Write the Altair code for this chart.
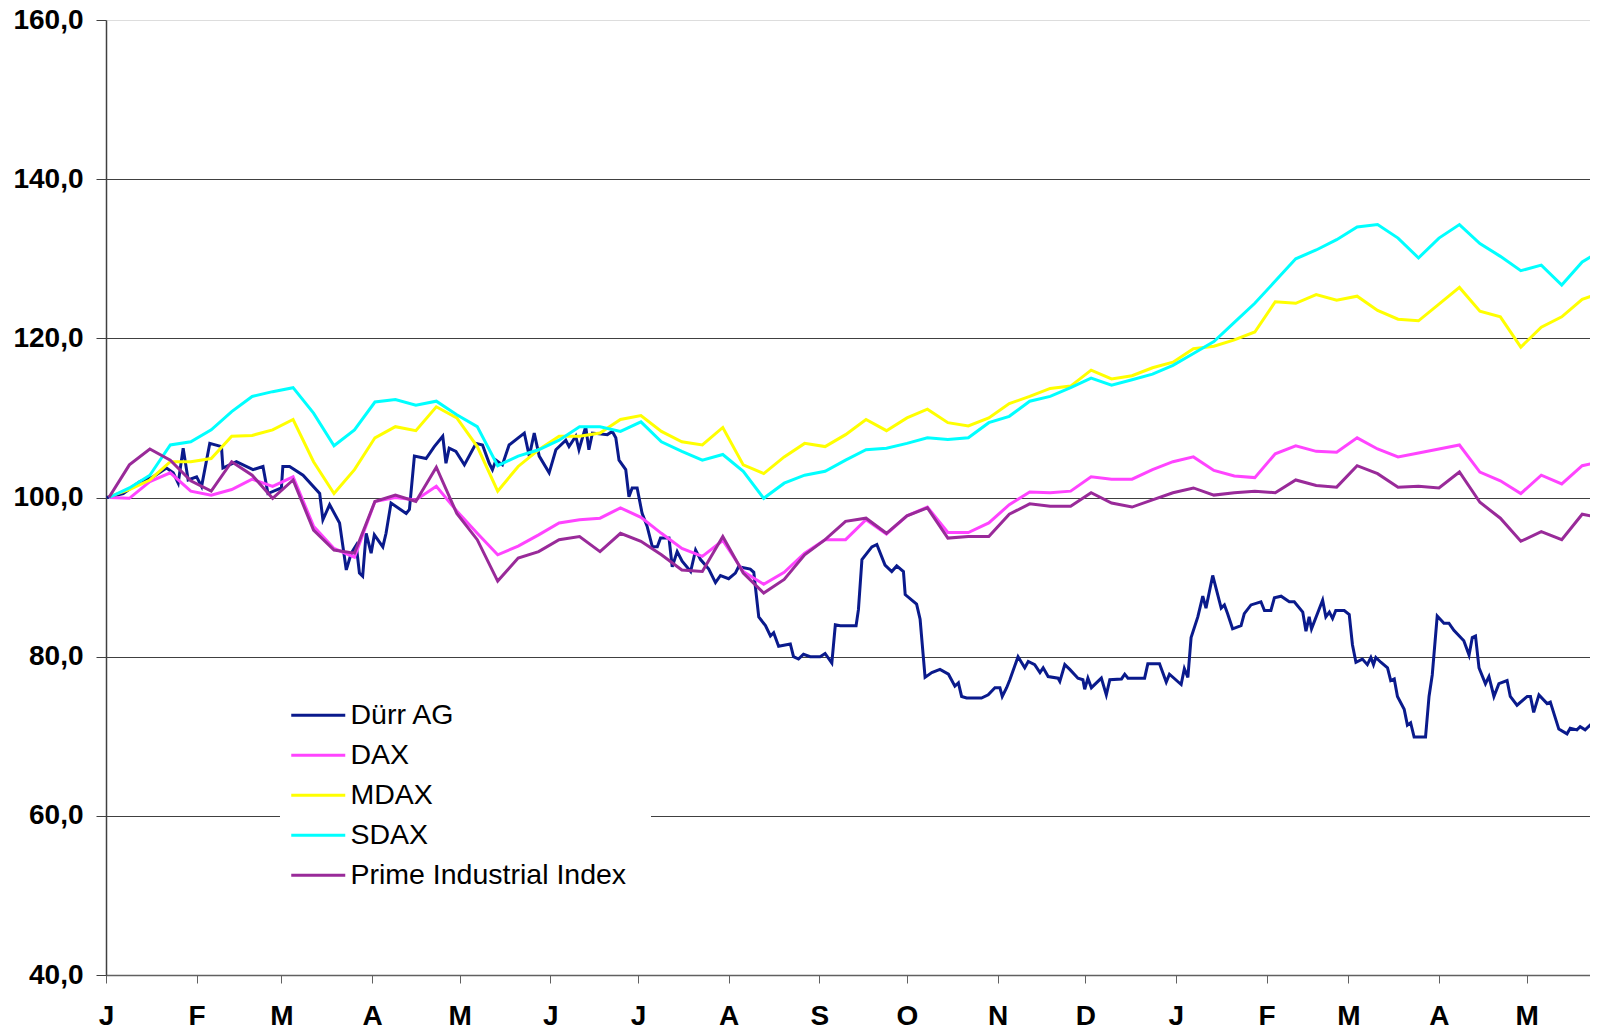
import altair as alt
import pandas as pd

SERIES = ["Dürr AG", "DAX", "MDAX", "SDAX", "Prime Industrial Index"]
COLORS = ["#0a1a8c", "#ff44ff", "#ffff00", "#00ffff", "#992a99"]

# weekly dates for the indices (Fridays) plus the last day shown
INDEX_DATES = list(pd.date_range("2004-01-02", periods=73, freq="7D")) + [pd.Timestamp("2005-05-24")]

DAX = [100.0, 99.9, 102.0, 103.1, 100.8, 100.3, 101.0, 102.3, 101.4, 102.6,
       96.4, 93.6, 92.5, 99.5, 100.0, 99.7, 101.4, 98.3, 95.5, 92.8,
       93.9, 95.3, 96.8, 97.2, 97.4, 98.7, 97.5, 95.5, 93.6, 92.6,
       94.6, 90.7, 89.1, 90.6, 93.0, 94.7, 94.7, 97.2, 95.4, 97.7,
       98.8, 95.6, 95.6, 96.8, 99.1, 100.7, 100.6, 100.8, 102.6, 102.3,
       102.3, 103.5, 104.5, 105.1, 103.4, 102.7, 102.5, 105.5, 106.5, 105.8,
       105.7, 107.5, 106.1, 105.1, 105.6, 106.1, 106.6, 103.2, 102.1, 100.5,
       102.8, 101.7, 104.0, 104.3]

MDAX = [100.1, 101.0, 102.2, 104.5, 104.5, 104.9, 107.7, 107.8, 108.5, 109.8,
        104.5, 100.5, 103.5, 107.5, 108.9, 108.4, 111.4, 110.0, 106.4, 100.8,
        103.9, 106.0, 107.7, 107.7, 108.1, 109.8, 110.3, 108.3, 107.0, 106.6,
        108.8, 104.1, 103.0, 105.1, 106.8, 106.4, 107.9, 109.8, 108.4, 110.0,
        111.1, 109.4, 109.0, 110.0, 111.8, 112.7, 113.7, 114.0, 116.0, 114.9,
        115.3, 116.3, 117.0, 118.7, 119.0, 119.8, 120.8, 124.6, 124.4, 125.5,
        124.8, 125.3, 123.5, 122.4, 122.2, 124.3, 126.4, 123.4, 122.7, 118.9,
        121.4, 122.7, 124.9, 125.4]

SDAX = [100.0, 101.2, 102.8, 106.6, 107.0, 108.5, 110.8, 112.7, 113.3, 113.8,
        110.6, 106.5, 108.5, 112.0, 112.3, 111.6, 112.1, 110.4, 108.9, 104.0,
        105.2, 106.0, 107.2, 108.9, 108.9, 108.3, 109.5, 107.0, 105.8, 104.7,
        105.4, 103.3, 99.9, 101.8, 102.8, 103.3, 104.7, 106.0, 106.2, 106.8,
        107.5, 107.3, 107.5, 109.4, 110.2, 112.1, 112.7, 113.8, 115.0, 114.1,
        114.8, 115.5, 116.6, 118.1, 119.6, 122.0, 124.4, 127.2, 130.0, 131.1,
        132.4, 134.0, 134.3, 132.6, 130.1, 132.6, 134.3, 131.9, 130.3, 128.5,
        129.2, 126.7, 129.6, 130.5]

PRIME = [100.0, 104.1, 106.1, 104.7, 102.1, 100.8, 104.5, 102.8, 99.9, 102.2,
         95.9, 93.4, 93.0, 99.5, 100.3, 99.5, 103.8, 98.0, 94.7, 89.5,
         92.4, 93.2, 94.7, 95.1, 93.2, 95.5, 94.5, 92.8, 90.9, 90.7,
         95.1, 90.5, 88.0, 89.7, 92.8, 94.7, 97.0, 97.4, 95.5, 97.7,
         98.7, 94.9, 95.1, 95.1, 97.9, 99.2, 98.9, 98.9, 100.6, 99.3,
         98.8, 99.7, 100.6, 101.2, 100.3, 100.6, 100.8, 100.6, 102.2, 101.5,
         101.3, 104.0, 103.0, 101.3, 101.4, 101.2, 103.2, 99.4, 97.4, 94.5,
         95.7, 94.7, 97.9, 97.6]

# Dürr AG: days since 1 Jan 2004 and indexed value
DURR_DAYS = [0.2, 5.9, 11.6, 16.1, 20.7, 23.0, 24.7, 26.4, 28.1, 31.0, 32.7, 35.5, 39.5, 40.0,
             44.6, 50.3, 53.7, 55.4, 60.0, 60.5, 62.8, 67.4, 73.1, 74.2, 76.5, 79.9, 82.2, 83.9,
             85.6, 86.7, 87.8, 89.0, 90.7, 91.8, 94.7, 95.8, 97.5, 102.7, 103.8, 105.5, 109.5,
             112.3, 115.2, 116.3, 117.4, 119.7, 122.6, 125.4, 126.6, 128.8, 131.1, 132.2, 133.4,
             135.6, 137.9, 143.1, 144.8, 146.5, 148.2, 151.6, 153.9, 157.3, 158.4, 160.7, 161.8,
             164.1, 165.2, 166.4, 171.5, 173.2, 174.4, 175.5, 177.8, 178.9, 180.0, 181.7, 183.4,
             185.1, 186.9, 188.6, 189.7, 192.6, 193.7, 195.4, 197.1, 200.0, 201.7, 203.4, 206.2,
             208.5, 210.2, 213.0, 215.3, 216.4, 220.4, 221.6, 223.3, 225.6, 227.3, 228.4, 230.1,
             234.1, 235.2, 236.9, 238.6, 240.9, 244.3, 246.0, 248.3, 249.5, 251.2, 256.6, 257.4,
             258.6, 262.0, 263.7, 266.5, 268.8, 270.5, 272.8, 273.4, 277.3, 278.5, 280.2, 282.5,
             285.3, 288.2, 290.4, 291.6, 292.7, 294.4, 299.5, 301.8, 304.1, 305.8, 306.6, 308.1,
             309.2, 312.0, 314.3, 315.5, 317.7, 319.5, 320.6, 322.3, 325.7, 326.3, 328.0, 329.7,
             332.5, 334.2, 334.8, 335.9, 337.1, 340.5, 342.2, 343.4, 347.4, 348.5, 349.6, 355.3,
             356.4, 360.4, 362.7, 363.8, 367.8, 368.9, 370.1, 371.2, 373.5, 375.2, 376.3, 378.6,
             381.5, 382.6, 383.7, 385.4, 388.3, 389.4, 391.7, 395.1, 396.3, 398.5, 399.7, 402.0,
             404.8, 406.5, 409.4, 410.5, 411.6, 412.4, 416.2, 417.3, 418.5, 419.6, 420.7, 423.6,
             425.3, 426.4, 427.6, 429.8, 431.5, 432.7, 433.6, 434.4, 436.1, 438.4, 439.5, 440.7,
             441.8, 444.1, 445.2, 446.3, 447.5, 451.4, 452.6, 453.7, 455.4, 457.7, 459.4, 461.1,
             464.5, 466.3, 467.4, 468.5, 469.7, 471.9, 473.1, 474.8, 476.5, 479.3, 480.4, 482.7,
             486.2, 487.3, 488.4, 490.2, 493.0, 494.1, 497.0, 499.8, 500.9, 503.2, 504.3, 506.0,
             507.7, 509.3]
DURR_VALUES = [100.0, 100.5, 102.0, 102.6, 103.7, 103.1, 101.8, 106.2, 102.2, 102.6, 101.4, 106.8, 106.4, 103.7,
               104.5, 103.5, 103.9, 100.5, 101.2, 103.9, 103.9, 102.8, 100.5, 97.2, 99.1, 96.8, 90.9, 93.0,
               94.0, 90.5, 90.1, 95.5, 93.0, 95.3, 93.8, 95.5, 99.3, 98.0, 98.5, 105.2, 104.9,
               106.4, 107.7, 104.3, 106.2, 105.8, 104.1, 106.0, 106.8, 106.6, 104.3, 103.5, 104.7,
               104.1, 106.6, 108.1, 105.2, 108.1, 105.2, 103.1, 106.0, 107.2, 106.4, 107.7, 106.0,
               108.9, 106.0, 108.1, 107.9, 108.3, 107.5, 104.7, 103.5, 100.1, 101.2, 101.2, 98.0,
               96.4, 93.8, 93.8, 94.9, 94.9, 91.3, 93.2, 92.0, 90.7, 93.4, 92.2, 91.0,
               89.3, 90.2, 89.8, 90.5, 91.3, 91.0, 90.6, 85.0, 83.9, 82.6, 83.0, 81.3,
               81.6, 80.0, 79.7, 80.3, 80.0, 80.0, 80.4, 79.2, 84.0, 83.9, 83.9, 85.9,
               92.2, 93.8, 94.1, 91.5, 90.7, 91.4, 90.7, 87.8, 86.6, 84.7, 77.4, 78.0,
               78.4, 77.8, 76.3, 76.7, 75.0, 74.8, 74.8, 75.2, 76.1, 76.1, 75.0, 76.1,
               77.1, 80.0, 78.6, 79.4, 79.0, 78.0, 78.6, 77.5, 77.3, 76.9, 79.0, 78.4,
               77.3, 77.1, 75.9, 77.3, 76.1, 77.3, 75.2, 77.1, 77.2, 77.8, 77.3, 77.3,
               79.1, 79.1, 76.8, 77.8, 76.5, 78.5, 77.4, 82.4, 85.0, 87.6, 86.1, 90.2,
               86.1, 86.5, 85.4, 83.5, 83.9, 85.4, 86.5, 86.9, 85.8, 85.8, 87.4, 87.6,
               86.9, 86.9, 85.6, 83.2, 85.0, 83.5, 87.1, 85.0, 85.6, 84.8, 85.8, 85.8,
               85.3, 81.5, 79.3, 79.7, 79.0, 79.9, 79.0, 79.9, 79.3, 78.6, 77.0, 77.2,
               75.0, 73.4, 71.4, 71.7, 69.9, 69.9, 75.0, 77.7, 85.1, 84.2, 84.2, 83.3,
               82.0, 80.2, 82.4, 82.6, 78.6, 76.6, 77.5, 75.0, 76.6, 77.0, 75.0, 73.9,
               75.0, 75.0, 73.0, 75.2, 74.1, 74.3, 70.9, 70.3, 71.0, 70.8, 71.2, 70.8,
               71.4, 71.0]

Y_TICKS = [40, 60, 80, 100, 120, 140, 160]

frames = []
durr_dates = pd.Timestamp("2004-01-01") + pd.to_timedelta(DURR_DAYS, unit="D")
frames.append(pd.DataFrame({"date": durr_dates, "series": "Dürr AG", "value": DURR_VALUES}))
for name, vals in [("DAX", DAX), ("MDAX", MDAX), ("SDAX", SDAX), ("Prime Industrial Index", PRIME)]:
    frames.append(pd.DataFrame({"date": INDEX_DATES, "series": name, "value": vals}))
df = pd.concat(frames, ignore_index=True)
df["order"] = df["series"].map({s: i for i, s in enumerate(SERIES)})

FONT = "Liberation Sans, Arial, sans-serif"

chart = alt.Chart(df).mark_line(strokeWidth=3, clip=True).encode(
    x=alt.X(
        "date:T",
        scale=alt.Scale(
            domain=[alt.DateTime(year=2004, month=1, date=1),
                    alt.DateTime(year=2005, month=5, date=22, hours=16)],
            nice=False,
        ),
        axis=alt.Axis(
            title=None,
            grid=False,
            tickCount={"interval": "month", "step": 1},
            labelExpr="slice(timeFormat(datum.value, '%b'), 0, 1)",
            labelFont=FONT,
            labelFontSize=28,
            labelFontWeight="bold",
            labelColor="black",
            labelPadding=19,
            labelFlush=False,
            labelOverlap=False,
            tickSize=8,
            tickColor="#606060",
            domainColor="#606060",
            domainWidth=1.5,
        ),
    ),
    y=alt.Y(
        "value:Q",
        scale=alt.Scale(domain=[40, 160], nice=False, zero=False),
        axis=alt.Axis(
            title=None,
            values=Y_TICKS,
            labelExpr="replace(format(datum.value, '.1f'), '.', ',')",
            labelFont=FONT,
            labelFontSize=28,
            labelFontWeight="bold",
            labelColor="black",
            labelPadding=13,
            tickSize=10,
            tickColor="#404040",
            domainColor="#404040",
            domainWidth=1.5,
            grid=True,
            gridColor="#404040",
            gridWidth=1,
            gridOpacity={"condition": {"test": "datum.value >= 160 || datum.value <= 40", "value": 0}, "value": 1},
        ),
    ),
    color=alt.Color(
        "series:N",
        scale=alt.Scale(domain=SERIES, range=COLORS),
        legend=alt.Legend(
            title=None,
            orient="none",
            legendX=174,
            legendY=657,
            direction="vertical",
            symbolType="M-2.7,0H2.7",
            symbolSize=400,
            symbolStrokeWidth=3,
            labelFont=FONT,
            labelFontSize=28.5,
            labelColor="black",
            labelOffset=18,
            labelLimit=500,
            rowPadding=11,
            padding=24,
            fillColor="white",
        ),
    ),
    detail="order:O",
).properties(
    width=1484,
    height=955,
    padding={"left": 98, "top": 12, "right": 0, "bottom": 52},
    autosize=alt.AutoSizeParams(type="none"),
).configure_view(stroke=None).configure(background="white")

chart.save("out.html", embed_options={"renderer": "svg", "actions": False})
